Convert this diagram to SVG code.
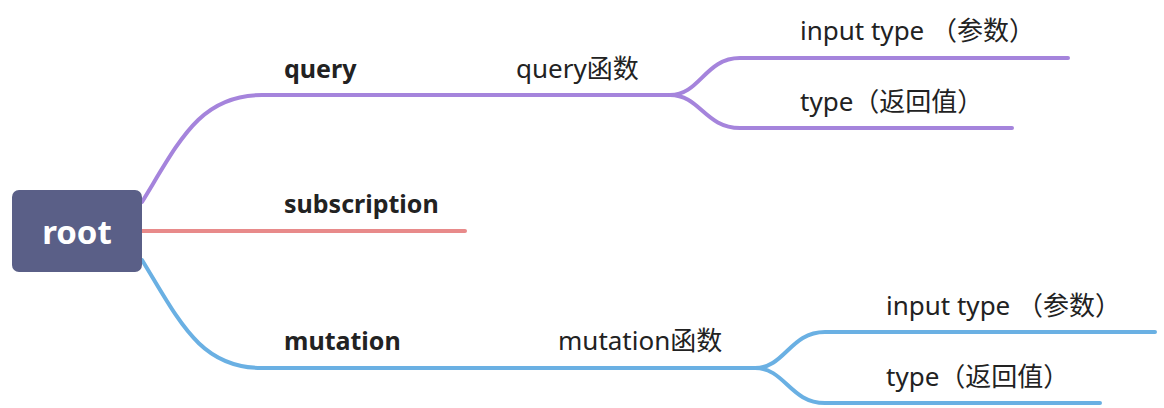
<svg xmlns="http://www.w3.org/2000/svg" width="1164" height="408" viewBox="0 0 1164 408">
<style>
.c{fill:none;stroke-width:4;stroke-linecap:round}
.p{stroke:#a584dc}.r{stroke:#e88a8a}.b{stroke:#6ab0e3}
text{font-family:"Noto Sans","Noto Sans CJK SC",sans-serif;font-size:26px;fill:#222}
.bold{font-weight:bold}
</style>
<rect width="1164" height="408" fill="#fff"/>
<g id="connectors">
<path class="c p" d="M142,202 C180,140 200,95 262,95 L670,95 C700,95 705,58 740,58 L1068,58"/>
<path class="c p" d="M670,95 C700,95 705,128 740,128 L1012,128"/>
<path class="c r" d="M142,231 L465,231"/>
<path class="c b" d="M142,260 C180,322 200,368 262,368 L755,368 C785,368 790,332 825,332 L1155,332"/>
<path class="c b" d="M755,368 C785,368 790,403 825,403 L1100,403"/>
</g>
<g id="root"><rect x="12" y="190" width="130" height="82" rx="7" fill="#5a5f87"/><text x="77" y="244" text-anchor="middle" style="font-size:33px;fill:#fff" class="bold">root</text></g>
<g id="query"><text x="284" y="78" class="bold" style="font-size:25px">query</text></g>
<g id="queryfn"><text x="516" y="78">query函数</text></g>
<g id="qinput"><text x="800" y="40">input type （参数）</text></g>
<g id="qtype"><text x="800" y="111">type（返回值）</text></g>
<g id="subscription"><text x="284" y="213" class="bold" style="font-size:25px">subscription</text></g>
<g id="mutation"><text x="284" y="350" class="bold" style="font-size:25px">mutation</text></g>
<g id="mutationfn"><text x="558" y="350">mutation函数</text></g>
<g id="minput"><text x="886" y="315">input type （参数）</text></g>
<g id="mtype"><text x="886" y="386">type（返回值）</text></g>
</svg>
